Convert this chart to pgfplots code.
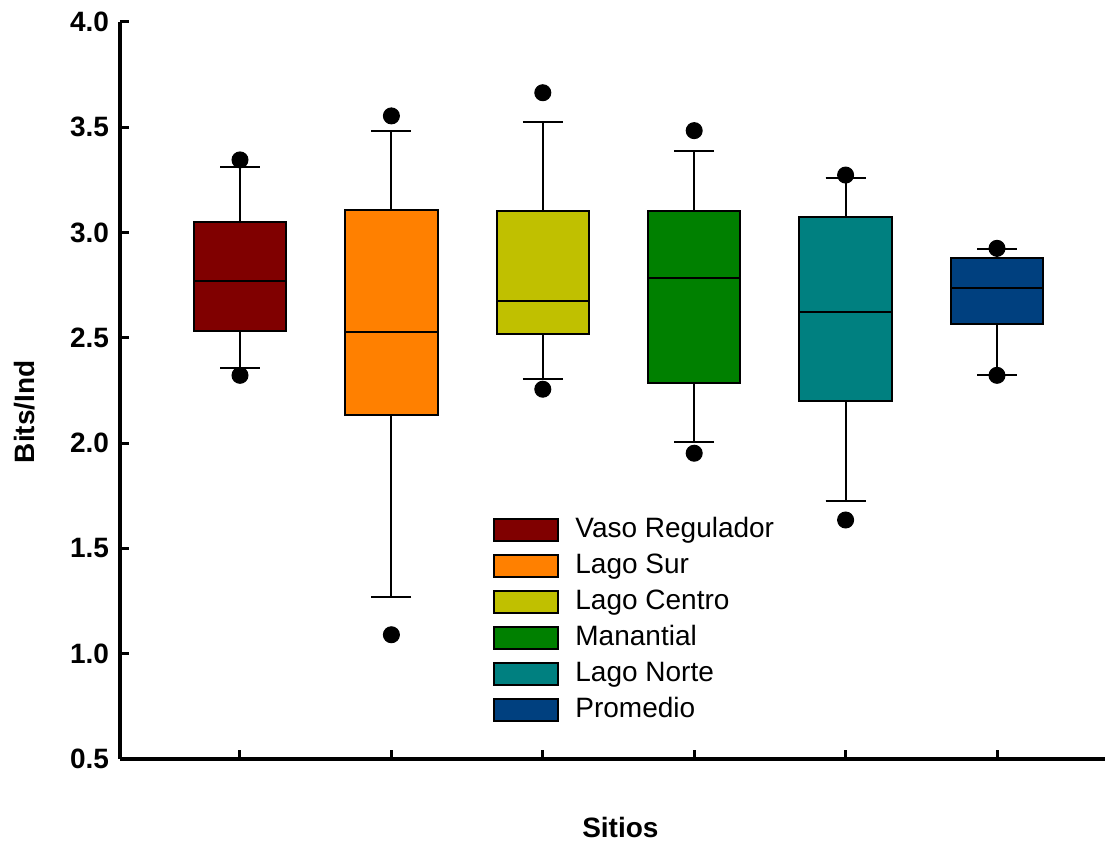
\documentclass[border=0pt]{standalone}
\usepackage{fontspec}
\setmainfont{Liberation Sans}
\usepackage{pgfplots}
\pgfplotsset{compat=1.18}
\usepgfplotslibrary{statistics}
\definecolor{cVR}{HTML}{800000}
\definecolor{cLS}{HTML}{FF8000}
\definecolor{cLC}{HTML}{C0C000}
\definecolor{cMA}{HTML}{008000}
\definecolor{cLN}{HTML}{008080}
\definecolor{cPR}{HTML}{00407F}
\begin{document}
\begin{tikzpicture}
\useasboundingbox (-60pt,-42.5pt) rectangle (492.5pt,379.5pt);
\begin{axis}[
  scale only axis,
  width=492.5pt, height=368.5pt,
  xmin=0.2074, xmax=6.7133,
  ymin=0.5, ymax=4.0,
  axis x line=bottom, axis y line=left,
  axis line style={-, line width=2pt, black},
  xtick={1,2,3,4,5,6}, xticklabels={},
  ytick={0.5,1.0,1.5,2.0,2.5,3.0,3.5,4.0},
  tick align=inside,
  major tick length=4.5pt,
  tick style={line width=1.5pt, black},
  /pgf/number format/assume math mode=true,
  /pgf/number format/.cd, fixed, fixed zerofill, precision=1, /pgfplots/.cd,
  yticklabel style={font=\bfseries\fontsize{14}{14}\selectfont, xshift=-2pt},
  xlabel={\bfseries Sitios},
  ylabel={\bfseries Bits/Ind},
  label style={font=\bfseries\fontsize{14}{14}\selectfont},
  xlabel style={at={(axis description cs:0.508,0)}, anchor=center, yshift=-34.5pt},
  ylabel style={at={([xshift=-47.5pt]axis description cs:0,0.471)}, anchor=center},
  boxplot/draw direction=y,
  boxplot/box extend=0.61,
  boxplot/whisker extend=0.264,
  every boxplot/.style={line width=1pt, draw=black},
  legend image code/.code={\draw[#1, draw=black, line width=1pt] (0pt,-5pt) rectangle (32pt,6pt);},
  legend cell align=left,
  legend style={at={(axis description cs:0.3787,0.334)}, anchor=north west,
    draw=none, fill=none, inner sep=0pt, row sep=0pt,
    font=\fontsize{14}{16}\selectfont,
    nodes={inner sep=0pt, text height=12pt, text depth=6pt},
    /tikz/every odd column/.append style={column sep=8pt}},
]
% Vaso Regulador
\addplot[boxplot prepared={draw position=1, lower whisker=2.357, lower quartile=2.532, median=2.772, upper quartile=3.052, upper whisker=3.31},
  fill=cVR, draw=black, line width=1pt, mark=*, mark size=4pt, mark options={fill=black, draw=black, line width=0.5pt}, forget plot]
  table[row sep=\\, y index=0] {v\\ 3.345\\ 2.322\\};
% Lago Sur
\addplot[boxplot prepared={draw position=2, lower whisker=1.267, lower quartile=2.132, median=2.527, upper quartile=3.105, upper whisker=3.484},
  fill=cLS, draw=black, line width=1pt, mark=*, mark size=4pt, mark options={fill=black, draw=black, line width=0.5pt}, forget plot]
  table[row sep=\\, y index=0] {v\\ 3.554\\ 1.09\\};
% Lago Centro
\addplot[boxplot prepared={draw position=3, lower whisker=2.305, lower quartile=2.517, median=2.675, upper quartile=3.103, upper whisker=3.527},
  fill=cLC, draw=black, line width=1pt, mark=*, mark size=4pt, mark options={fill=black, draw=black, line width=0.5pt}, forget plot]
  table[row sep=\\, y index=0] {v\\ 3.664\\ 2.256\\};
% Manantial
\addplot[boxplot prepared={draw position=4, lower whisker=2.004, lower quartile=2.284, median=2.786, upper quartile=3.103, upper whisker=3.387},
  fill=cMA, draw=black, line width=1pt, mark=*, mark size=4pt, mark options={fill=black, draw=black, line width=0.5pt}, forget plot]
  table[row sep=\\, y index=0] {v\\ 3.484\\ 1.952\\};
% Lago Norte
\addplot[boxplot prepared={draw position=5, lower whisker=1.727, lower quartile=2.199, median=2.623, upper quartile=3.073, upper whisker=3.26},
  fill=cLN, draw=black, line width=1pt, mark=*, mark size=4pt, mark options={fill=black, draw=black, line width=0.5pt}, forget plot]
  table[row sep=\\, y index=0] {v\\ 3.273\\ 1.635\\};
% Promedio
\addplot[boxplot prepared={draw position=6, lower whisker=2.322, lower quartile=2.568, median=2.738, upper quartile=2.88, upper whisker=2.92},
  fill=cPR, draw=black, line width=1pt, mark=*, mark size=4pt, mark options={fill=black, draw=black, line width=0.5pt}, forget plot]
  table[row sep=\\, y index=0] {v\\ 2.925\\ 2.322\\};
\addlegendimage{fill=cVR}\addlegendentry{Vaso Regulador}
\addlegendimage{fill=cLS}\addlegendentry{Lago Sur}
\addlegendimage{fill=cLC}\addlegendentry{Lago Centro}
\addlegendimage{fill=cMA}\addlegendentry{Manantial}
\addlegendimage{fill=cLN}\addlegendentry{Lago Norte}
\addlegendimage{fill=cPR}\addlegendentry{Promedio}
\end{axis}
\end{tikzpicture}
\end{document}
